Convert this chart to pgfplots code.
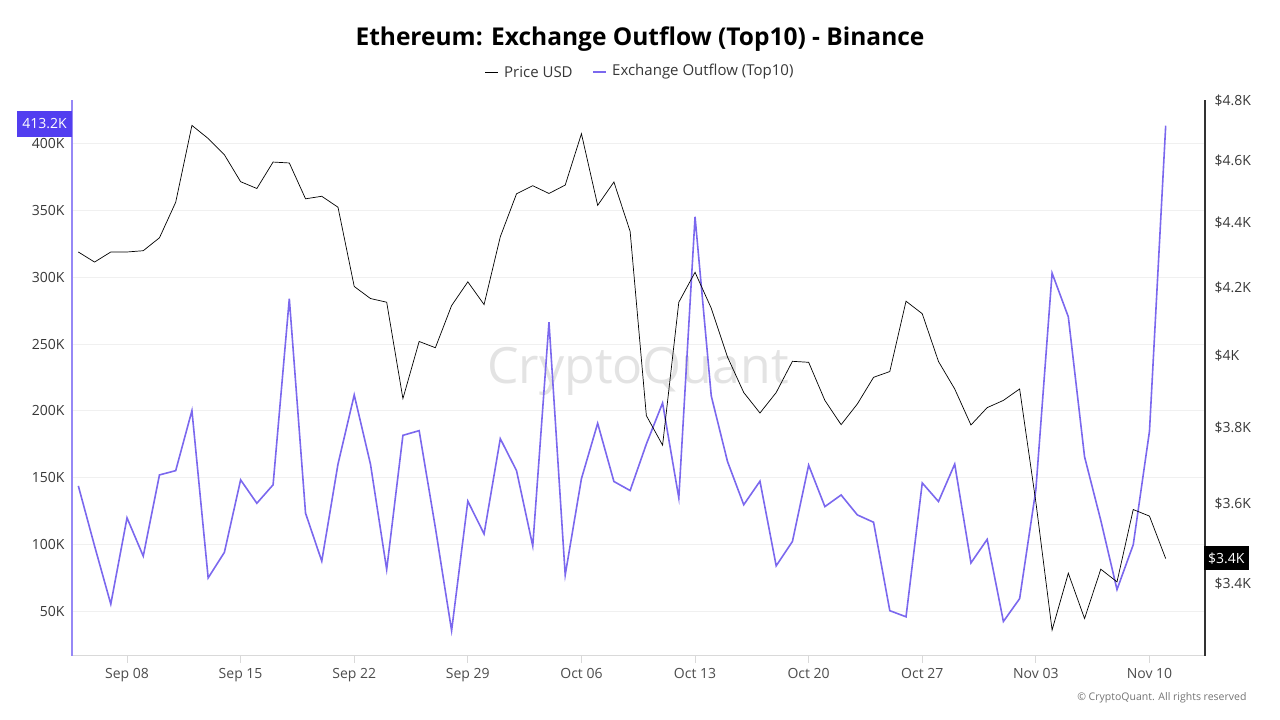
\documentclass[border=0pt]{standalone}
\usepackage{pgfplots}
\usepackage{pgfplotstable}
\pgfplotsset{compat=1.18}
\usepackage{fontspec}
\setmainfont{Open Sans}

\definecolor{outflow}{RGB}{123,104,238}
\definecolor{leftax}{RGB}{150,136,246}
\definecolor{tagblue}{RGB}{82,62,240}
\definecolor{ticktxt}{RGB}{55,55,55}
\definecolor{gridc}{RGB}{240,240,240}

% day index 0 = Sep 05, 67 = Nov 11; outflow in K, price in USD
\pgfplotstableread{
i  outflow price
0  143.9 4308
1  99.0  4277
2  55.5  4308
3  120.0 4308
4  91.4  4312
5  152.1 4352
6  155.3 4464
7  200.2 4716
8  75.1  4672
9  94.2  4618
10 148.4 4530
11 130.9 4508
12 144.7 4594
13 283.9 4591
14 123.5 4475
15 87.6  4483
16 160.2 4448
17 211.9 4203
18 160.2 4167
19 81.4  4156
20 181.7 3880
21 185.2 4041
22 112.6 4023
23 35.7  4146
24 132.5 4217
25 108.0 4149
26 179.2 4355
27 155.3 4491
28 99.0  4517
29 266.3 4492
30 77.3  4519
31 149.3 4688
32 190.7 4454
33 147.2 4529
34 140.4 4372
35 175.2 3833
36 205.9 3753
37 134.9 4156
38 345.1 4246
39 211.1 4138
40 162.1 3997
41 129.8 3897
42 147.4 3840
43 84.1  3897
44 102.3 3985
45 159.4 3982
46 128.4 3875
47 137.1 3808
48 122.2 3865
49 116.7 3939
50 50.6  3956
51 46.0  4159
52 146.1 4122
53 132.2 3984
54 160.2 3907
55 86.3  3807
56 103.9 3855
57 42.5  3875
58 59.6  3907
59 141.0 3603
60 303.0 3288
61 270.3 3424
62 165.7 3315
63 118.1 3434
64 66.4  3403
65 99.9  3584
66 184.7 3567
67 413.2 3460
}\datatable

\begin{document}
\begin{tikzpicture}[x=1pt,y=1pt]
\useasboundingbox (0,0) rectangle (1280,720);

% watermark
\node[text=black!11, font=\fontsize{50}{50}\selectfont] at (638,349) {CryptoQuant};

% title and legend
\node[font=\fontsize{24.5}{28}\selectfont\bfseries] at (640,681) {Ethereum: Exchange Outflow (Top10) - Binance};
\draw[black, line width=0.7pt] (485,648) -- (498,648);
\node[anchor=west, inner sep=0pt, font=\fontsize{15}{18}\selectfont, text=ticktxt] at (504,648) {Price USD};
\draw[outflow, line width=1.2pt] (593,648) -- (606,648);
\node[anchor=west, inner sep=0pt, font=\fontsize{15}{18}\selectfont, text=ticktxt] at (612,648) {Exchange Outflow (Top10)};

\begin{axis}[
    at={(72pt,64pt)}, anchor=south west,
    scale only axis,
    width=1133pt, height=556pt,
    xmin=-0.39, xmax=69.42,
    ymin=16.7, ymax=432.45,
    axis x line*=bottom,
    axis y line*=left,
    x axis line style={draw=black!15, line width=1pt, -},
    y axis line style={draw=leftax, line width=2pt, -},
    xtick={3,10,17,24,31,38,45,52,59,66},
    xticklabels={Sep 08,Sep 15,Sep 22,Sep 29,Oct 06,Oct 13,Oct 20,Oct 27,Nov 03,Nov 10},
    xtick align=outside,
    x tick style={draw=black!15, line width=0.8pt},
    x tick label style={font=\fontsize{14}{16}\selectfont, text=black!70, yshift=-2pt},
    major tick length=7pt,
    ytick={50,100,150,200,250,300,350,400},
    yticklabels={50K,100K,150K,200K,250K,300K,350K,400K},
    y tick style={draw=none},
    y tick label style={font=\fontsize{14}{16}\selectfont, text=ticktxt, xshift=-4pt},
    ymajorgrids,
    major grid style={draw=gridc, line width=0.8pt},
    clip=false,
]
\addplot[outflow, line width=1.6pt] table[x=i, y=outflow] {\datatable};
\end{axis}

\begin{axis}[
    at={(72pt,64pt)}, anchor=south west,
    scale only axis,
    width=1133pt, height=556pt,
    xmin=-0.39, xmax=69.42,
    ymode=log,
    ymin=3227.8, ymax=4803,
    hide x axis,
    axis y line*=right,
    y axis line style={draw=black!80, line width=1.3pt, -},
    ytick={3400,3600,3800,4000,4200,4400,4600,4800},
    yticklabels={\$3.4K,\$3.6K,\$3.8K,\$4K,\$4.2K,\$4.4K,\$4.6K,\$4.8K},
    y tick style={draw=none},
    major tick length=0pt,
    y tick label style={font=\fontsize{14}{16}\selectfont, text=ticktxt, xshift=6pt},
    clip=false,
]
\addplot[black, line width=0.7pt] table[x=i, y=price] {\datatable};
\end{axis}

% value tags
\node[fill=tagblue, text=white, inner xsep=5pt, inner ysep=3pt, anchor=east, minimum height=26pt, font=\fontsize{14}{16}\selectfont] at (72,596) {413.2K};
\node[fill=black, text=white, inner xsep=4pt, inner ysep=3pt, anchor=west, minimum height=24pt, font=\fontsize{14}{16}\selectfont] at (1204,161.5) {\$3.4K};

% copyright
\node[anchor=east, text=black!55, font=\fontsize{10.5}{12}\selectfont] at (1250,22) {\textcopyright{} CryptoQuant. All rights reserved};
\end{tikzpicture}
\end{document}
